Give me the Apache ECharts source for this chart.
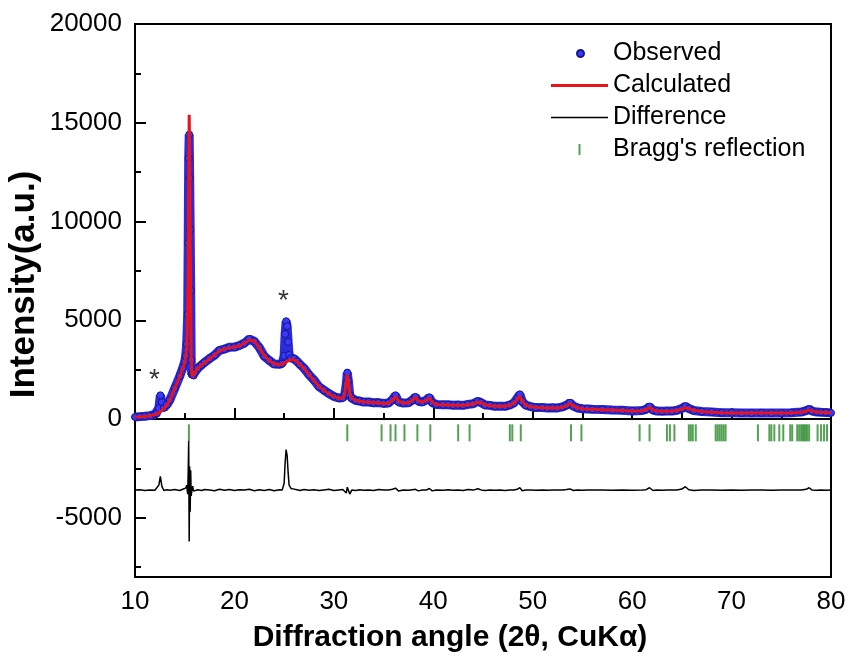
<!DOCTYPE html>
<html>
<head>
<meta charset="utf-8">
<script src="https://cdn.jsdelivr.net/npm/echarts@6/dist/echarts.min.js"></script>
<style>
  html, body { margin: 0; padding: 0; background: #fff; }
  #main { width: 850px; height: 656px; }
</style>
</head>
<body>
<div id="main"></div>
<script>
// 2-theta positions (deg)
var twoTheta = [
  10, 10.5, 11, 11.5, 12, 12.2, 12.4, 12.55, 12.7, 12.9, 13.2, 13.5, 14, 14.5, 14.8,
  15.0, 15.1, 15.2, 15.3, 15.35, 15.4, 15.45, 15.5, 15.55, 15.6, 15.65, 15.7, 15.8, 15.9,
  16.0, 16.3, 16.7, 17, 17.5, 18, 18.5, 19, 19.5, 20, 20.5, 21, 21.5, 22, 22.5, 23, 23.5,
  24, 24.5, 24.8, 25.0, 25.1, 25.2, 25.3, 25.4, 25.5, 25.7, 26, 26.3, 26.6, 27, 27.5, 28,
  28.5, 29, 29.5, 30, 30.5, 30.9, 31.1, 31.25, 31.35, 31.45, 31.6, 31.8, 32.2, 32.6, 33,
  33.5, 34, 34.5, 35, 35.5, 35.9, 36.2, 36.5, 37, 37.5, 37.9, 38.2, 38.5, 38.9, 39.3, 39.6,
  39.9, 40.3, 41, 41.5, 42, 42.5, 43, 43.5, 44, 44.5, 44.8, 45.2, 45.7, 46.2, 46.7, 47.2,
  47.7, 48.1, 48.45, 48.7, 48.95, 49.3, 49.8, 50.3, 51, 51.5, 52, 52.5, 53, 53.4, 53.75,
  54.1, 54.5, 55, 55.5, 56, 57, 58, 59, 60, 61, 61.4, 61.75, 62.1, 62.5, 63, 63.5, 64, 64.5,
  65, 65.35, 65.7, 66.2, 67, 68, 69, 70, 71, 72, 73, 74, 75, 76, 77, 77.5, 77.8, 78.1, 78.6,
  79, 79.5, 80
];
var observed = [
  100, 120, 140, 170, 230, 280, 550, 1200, 850, 560, 720, 960, 1560, 2170, 2580,
  2900, 3200, 3800, 5300, 8900, 13200, 14400, 12200, 9600, 6500, 3000, 2250, 2300, 2200,
  2340, 2560, 2740, 2870, 3060, 3230, 3480, 3540, 3630, 3640, 3720, 3840, 4050, 3930, 3620, 3180, 2970,
  2780, 2770, 2800, 3200, 4300, 4950, 4700, 3900, 3250, 3080, 3050, 2920, 2760, 2570, 2240, 1970,
  1640, 1460, 1290, 1140, 1060, 1070, 1250, 1750, 2350, 1950, 1200, 1060, 940, 910, 860,
  860, 820, 830, 790, 810, 980, 1200, 870, 810, 820, 960, 1120, 900, 860, 960, 1100,
  830, 740, 720, 720, 700, 710, 690, 740, 770, 900, 830, 710, 690, 640, 650, 640,
  710, 810, 1050, 1250, 880, 700, 630, 580, 580, 560, 570, 560, 610, 700, 820,
  650, 560, 520, 510, 490, 480, 450, 440, 410, 430, 490, 630, 450, 400, 390, 400, 400, 440,
  530, 650, 530, 430, 380, 350, 320, 320, 300, 300, 310, 300, 300, 320, 350, 420, 500, 400, 350,
  340, 330, 310
];
var calculated = [
  100, 110, 130, 160, 220, 260, 320, 370, 430, 520, 700, 950, 1550, 2150, 2550,
  2850, 3100, 3600, 5500, 8000, 12000, 15400, 13500, 9500, 5500, 3200, 2300, 2150, 2250,
  2350, 2550, 2750, 2850, 3050, 3250, 3450, 3550, 3600, 3650, 3700, 3850, 4000, 3950, 3600, 3200, 2950,
  2800, 2750, 2780, 2820, 2850, 2880, 2920, 2950, 2980, 3000, 3000, 2900, 2750, 2550, 2250, 1950,
  1650, 1450, 1270, 1150, 1050, 1050, 1300, 1900, 2250, 1900, 1300, 1050, 950, 900, 870,
  850, 830, 810, 790, 800, 950, 1150, 900, 800, 820, 950, 1100, 920, 850, 950, 1050,
  850, 730, 720, 710, 700, 700, 700, 720, 760, 850, 820, 720, 680, 650, 640, 650,
  700, 800, 1000, 1150, 900, 700, 620, 590, 570, 560, 560, 560, 600, 680, 780,
  660, 560, 520, 500, 490, 470, 450, 430, 410, 420, 480, 580, 460, 400, 390, 390, 400, 430,
  500, 580, 520, 440, 380, 340, 320, 310, 300, 300, 300, 300, 300, 310, 340, 400, 460, 400, 350,
  340, 330, 310
];
// difference curve, plotted with its offset as it appears
var difference = [
  -3600, -3580, -3620, -3590, -3610, -3580, -3350, -2900, -3400, -3620, -3580, -3610, -3570, -3620, -3560,
  -3540, -3500, -3350, -3800, -2700, -1100, -6200, -2400, -4700, -2600, -3900, -3700, -3400, -3650,
  -3600, -3580, -3620, -3570, -3600, -3630, -3560, -3610, -3570, -3620, -3580, -3600, -3560, -3630, -3580, -3620, -3570,
  -3630, -3580, -3600, -3250, -2200, -1550, -1850, -2700, -3350, -3520, -3550, -3580, -3620, -3570, -3610, -3580,
  -3620, -3590, -3560, -3620, -3590, -3570, -3650, -3750, -3450, -3550, -3800, -3600, -3620, -3580, -3610,
  -3590, -3620, -3570, -3600, -3590, -3560, -3500, -3650, -3590, -3610, -3580, -3560, -3640, -3590, -3600, -3520,
  -3640, -3590, -3610, -3580, -3610, -3590, -3620, -3570, -3600, -3530, -3590, -3620, -3590, -3610, -3590, -3620,
  -3590, -3600, -3560, -3480, -3630, -3600, -3590, -3610, -3590, -3610, -3590, -3600, -3590, -3570, -3540,
  -3620, -3600, -3610, -3590, -3600, -3590, -3610, -3590, -3610, -3590, -3580, -3480, -3620, -3600, -3610, -3590, -3600, -3590,
  -3550, -3430, -3580, -3620, -3600, -3590, -3610, -3590, -3610, -3600, -3590, -3610, -3600, -3590, -3600, -3560, -3480, -3600, -3610,
  -3600, -3610, -3600
];
// Bragg reflection positions
var braggPeaks = [
  15.42, 31.35, 34.8, 35.7, 36.2, 37.1, 38.4, 39.7, 42.5, 43.65, 47.7, 47.95, 48.8,
  53.85, 54.9, 60.75, 61.75, 63.5, 63.8, 64.25, 65.7, 65.9, 66.1, 66.4,
  68.4, 68.6, 68.8, 69.0, 69.2, 69.4, 72.65, 73.8, 74.0, 74.3, 74.8, 75.2, 75.9, 76.1,
  76.6, 76.8, 77.0, 77.15, 77.3, 77.45, 77.6, 77.8, 78.65, 79.0, 79.3, 79.6
];
var braggLevel = -700;
// impurity markers (*)
var impurityMarks = [[11.96, 1950], [24.94, 5950]];

var xTicks = [10, 20, 30, 40, 50, 60, 70, 80];
var yTicks = [-5000, 0, 5000, 10000, 15000, 20000];
var yMinorTicks = [-7500, -2500, 2500, 7500, 12500, 17500];

var myChart = echarts.init(document.getElementById('main'));

var font = 'Liberation Sans, Arial, sans-serif';

var option = {
    animation: false,
    backgroundColor: '#fff',
    grid: {
        left: 135, right: 19, top: 24, bottom: 79,
        outerBoundsMode: 'none',
        containLabel: false,
        show: true, borderColor: '#000', borderWidth: 2
    },
    legend: {
        orient: 'vertical',
        left: 546,
        top: 36,
        itemWidth: 57,
        itemHeight: 11,
        itemGap: 7,
        textStyle: { fontFamily: font, fontSize: 25, color: '#000' },
        data: [
            { name: 'Observed', icon: 'path://M0,0M0,11M2,5.5a3.5,3.5 0 1,0 7,0a3.5,3.5 0 1,0 -7,0Z' },
            { name: 'Calculated', icon: 'path://M0,0H57V3H0Z' },
            { name: 'Difference', icon: 'path://M0,0H57V1.5H0Z' },
            { name: "Bragg's reflection", icon: 'path://M0,0H2V11H0Z' }
        ]
    },
    xAxis: [{
        type: 'value',
        min: xTicks[0],
        max: xTicks[xTicks.length - 1],
        interval: 10,
        name: 'Diffraction angle (2\u03b8, CuK\u03b1)',
        nameLocation: 'middle',
        nameGap: 46,
        nameTextStyle: {
            fontFamily: font, fontSize: 30, fontWeight: 'bold', color: '#000',
            padding: [0, 66, 0, 0]
        },
        axisLine: { lineStyle: { color: '#000', width: 2 } },
        axisTick: { inside: true, length: 11, lineStyle: { color: '#000', width: 2 } },
        minorTick: { show: true, splitNumber: 2, length: 6, lineStyle: { color: '#000', width: 2 } },
        axisLabel: { fontFamily: font, fontSize: 26, color: '#000', margin: 12 },
        splitLine: { show: false }
    }],
    yAxis: [{
        type: 'value',
        min: -8000,
        max: 20000,
        name: 'Intensity(a.u.)',
        nameLocation: 'middle',
        nameGap: 93,
        nameMoveOverlap: false,
        nameTextStyle: {
            fontFamily: font, fontSize: 35, fontWeight: 'bold', color: '#000',
            padding: [0, 0, 0, 32]
        },
        axisLine: { lineStyle: { color: '#000', width: 2 } },
        axisTick: { inside: true, length: 11, customValues: yTicks, lineStyle: { color: '#000', width: 2 } },
        axisLabel: {
            fontFamily: font, fontSize: 26, color: '#000', margin: 13, customValues: yTicks,
            formatter: function (v) { return String(v); }
        },
        splitLine: { show: false }
    }, {
        // minor ticks only
        type: 'value',
        position: 'left',
        min: -8000,
        max: 20000,
        axisLine: { show: false },
        axisTick: { inside: true, length: 6, customValues: yMinorTicks, lineStyle: { color: '#000', width: 2 } },
        axisLabel: { show: false },
        splitLine: { show: false }
    }],
    series: [
        {
            name: 'Observed',
            type: 'line',
            data: twoTheta.map(function (t, i) { return [t, observed[i]]; }),
            symbol: 'circle',
            symbolSize: 7,
            showAllSymbol: true,
            lineStyle: { color: '#2b2bdc', width: 9 },
            itemStyle: { color: '#3a3aff', borderColor: '#16168a', borderWidth: 1 },
            z: 2
        },
        {
            name: 'Calculated',
            type: 'line',
            data: twoTheta.map(function (t, i) { return [t, calculated[i]]; }),
            showSymbol: false,
            symbol: 'none',
            lineStyle: { color: '#e8141c', width: 3 },
            itemStyle: { color: '#e8141c' },
            z: 3
        },
        {
            name: 'Difference',
            type: 'line',
            data: twoTheta.map(function (t, i) { return [t, difference[i]]; }),
            showSymbol: false,
            symbol: 'none',
            lineStyle: { color: '#000', width: 1.5 },
            itemStyle: { color: '#000' },
            z: 3
        },
        {
            name: "Bragg's reflection",
            type: 'scatter',
            data: braggPeaks.map(function (t) { return [t, braggLevel]; }),
            symbol: 'rect',
            symbolSize: [2, 17],
            itemStyle: { color: '#2a8a2a' },
            z: 3
        },
        {
            name: 'marks',
            type: 'scatter',
            data: impurityMarks,
            symbolSize: 0,
            silent: true,
            label: {
                show: true,
                position: 'inside',
                formatter: '*',
                fontFamily: font,
                fontSize: 28,
                color: '#000'
            },
            z: 4
        }
    ]
};

myChart.setOption(option);
</script>
</body>
</html>
